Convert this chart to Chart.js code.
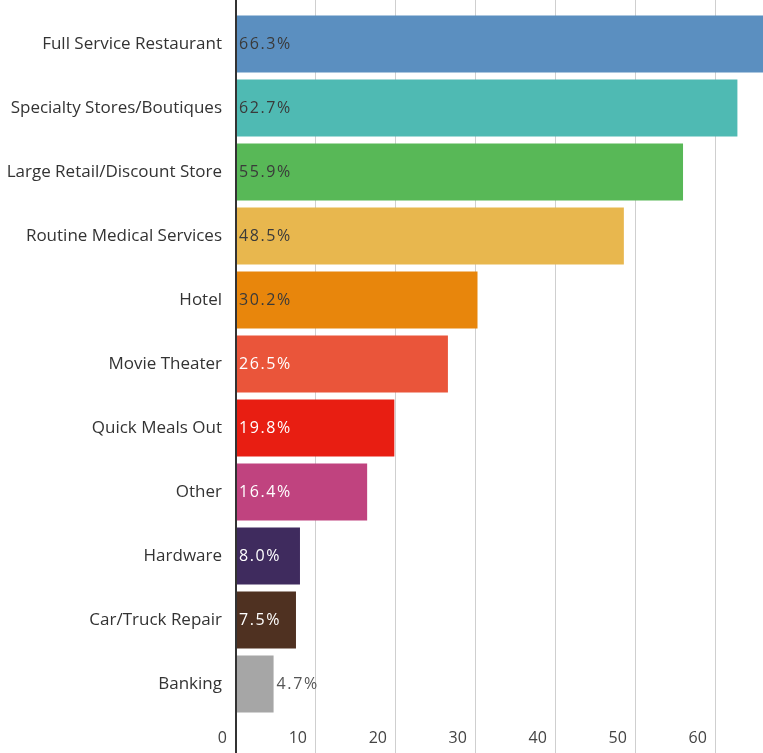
<!DOCTYPE html>
<html lang="en">
<head>
  <meta charset="UTF-8">
  <title>Where shoppers go</title>
  <script src="https://cdn.jsdelivr.net/npm/chart.js"></script>
  <style>
    html, body { margin: 0; padding: 0; background: #fff; overflow: hidden; }
    .chart-box { width: 763px; height: 753px; }
  </style>
</head>
<body>
  <div class="chart-box">
    <canvas id="grafico"></canvas>
  </div>
<script>
  // categories and percentages
  const categorias = [
    'Full Service Restaurant', 'Specialty Stores/Boutiques', 'Large Retail/Discount Store',
    'Routine Medical Services', 'Hotel', 'Movie Theater', 'Quick Meals Out', 'Other',
    'Hardware', 'Car/Truck Repair', 'Banking'
  ];
  const valores = [66.3, 62.7, 55.9, 48.5, 30.2, 26.5, 19.8, 16.4, 8.0, 7.5, 4.7];
  const ticksX = [0, 10, 20, 30, 40, 50, 60];

  const cores = [
    '#5b8fc0', '#4fbab3', '#58b857', '#e8b74e', '#e8860c', '#ea553a',
    '#e81e12', '#c0437f', '#3f2b5e', '#4f3121', '#a6a6a6'
  ];
  const coresTexto = [
    '#3a3a3a', '#3a3a3a', '#3a3a3a', '#3a3a3a', '#3a3a3a', '#fff',
    '#fff', '#fff', '#fff', '#fff', '#555'
  ];

  const fonte = '"Open Sans", Lato, sans-serif';

  // keep only the round ticks
  function soRedondos(scale) {
    scale.ticks = scale.ticks.filter(t => ticksX.includes(t.value));
  }

  function corGrade(ctx) {
    return ctx.tick && ctx.tick.value === 0 ? '#333' : '#cfcfcf';
  }
  function larguraGrade(ctx) {
    return ctx.tick && ctx.tick.value === 0 ? 2 : 1;
  }

  // percentage text at the start of each bar, outside when the bar is too short
  const rotulos = {
    id: 'rotulos',
    afterDatasetsDraw(chart) {
      const ctx = chart.ctx;
      const meta = chart.getDatasetMeta(0);
      ctx.save();
      ctx.font = '16px ' + fonte;
      ctx.letterSpacing = '1.6px';
      ctx.textBaseline = 'middle';
      ctx.textAlign = 'left';
      meta.data.forEach((bar, i) => {
        const texto = valores[i].toFixed(1) + '%';
        const w = ctx.measureText(texto).width;
        let x = bar.base + 2;
        if (bar.x - bar.base < w + 8) x = bar.x + 3;
        ctx.fillStyle = coresTexto[i];
        ctx.fillText(texto, x, bar.y);
      });
      ctx.restore();
    }
  };

  const config = {
    type: 'bar',
    data: {
      labels: categorias,
      datasets: [{
        data: valores,
        backgroundColor: cores,
        borderWidth: 0,
        categoryPercentage: 1,
        barPercentage: 0.89
      }]
    },
    options: {
      indexAxis: 'y',
      responsive: true,
      maintainAspectRatio: false,
      animation: false,
      layout: { padding: 0 },
      plugins: {
        legend: { display: false },
        tooltip: { enabled: false }
      },
      scales: {
        x: {
          position: 'bottom',
          min: 0,
          max: 65.9,
          afterBuildTicks: soRedondos,
          afterFit(scale) { scale.height = 37; },
          border: { display: false },
          grid: { color: corGrade, lineWidth: larguraGrade, tickLength: 37 },
          ticks: {
            stepSize: 10,
            includeBounds: false,
            align: 'end',
            labelOffset: -9,
            padding: -24,
            color: '#444',
            font: { family: fonte, size: 16 }
          }
        },
        x2: {
          position: 'top',
          axis: 'x',
          min: 0,
          max: 65.9,
          afterBuildTicks: soRedondos,
          afterFit(scale) { scale.height = 12; },
          border: { display: false },
          grid: { color: corGrade, lineWidth: larguraGrade, tickLength: 12 },
          ticks: { display: false, stepSize: 10, includeBounds: false }
        },
        y: {
          afterFit(scale) {
            scale.width = 236;
            scale.paddingTop = 0;
            scale.paddingBottom = 0;
          },
          border: { display: false },
          grid: { display: false, drawTicks: false },
          ticks: {
            padding: 14,
            color: '#333',
            font: { family: fonte, size: 17 }
          }
        }
      }
    },
    plugins: [rotulos]
  };

  const grafico = new Chart(document.getElementById('grafico'), config);
</script>
</body>
</html>
